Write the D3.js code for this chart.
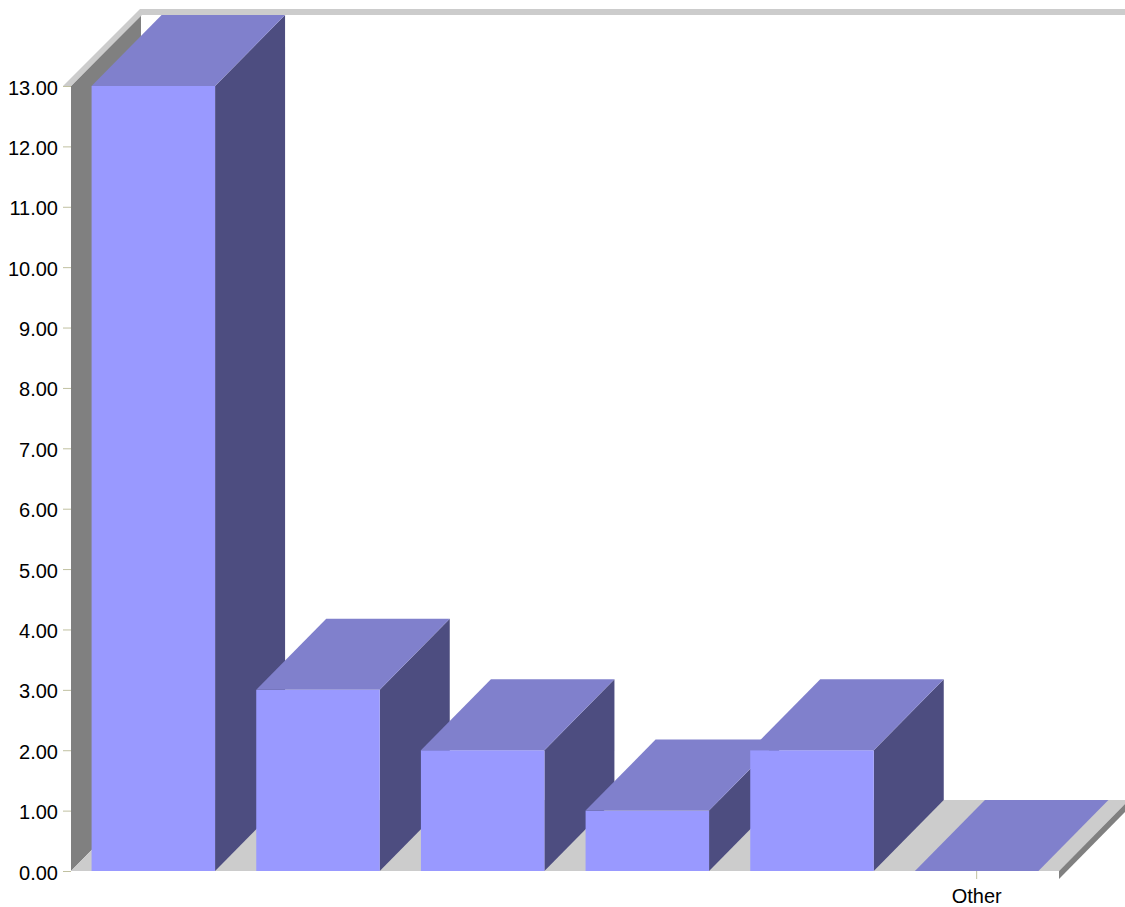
<!DOCTYPE html>
<html>
<head>
<meta charset="utf-8">
<script src="https://cdn.jsdelivr.net/npm/d3@7"></script>
<style>
  html, body { margin: 0; padding: 0; background: #ffffff; }
  svg { display: block; }
</style>
</head>
<body>
<div id="chart"></div>
<script>
// ---- data ----
const categoryLabels = ["", "", "", "", "", "Other"];
const seriesValues = [13, 3, 2, 1, 2, 0];
const yTicks = [0, 1, 2, 3, 4, 5, 6, 7, 8, 9, 10, 11, 12, 13];

// ---- layout ----
const W = 1125, H = 907;
const x0 = 71, x1 = 1059;   // front plane horizontal extent
const yBottom = 871, yTop = 86;
const dx = 70, dy = -71;    // 3D depth offset

const colors = {
  front: "#9999ff",
  top: "#8080cc",
  side: "#4d4d80",
  wall: "#808080",
  wallEdge: "#cccccc",
  floor: "#cccccc",
  floorEdge: "#808080",
  tick: "#c0c0a0"
};

const svg = d3.select("#chart").append("svg")
  .attr("width", W).attr("height", H);

const x = d3.scaleBand()
  .domain(d3.range(categoryLabels.length))
  .range([x0, x1])
  .paddingInner(0.25)
  .paddingOuter(0.125);

const y = d3.scaleLinear().domain([0, 13]).range([yBottom, yTop]);

const poly = pts => "M" + pts.map(p => p.join(",")).join("L") + "Z";

// ---- walls / floor ----
const bg = svg.append("g");
// left wall inner face
bg.append("path").attr("fill", colors.wall)
  .attr("d", poly([[x0, yBottom], [x0, y(13)], [x0 + dx, y(13) + dy], [x0 + dx, yBottom + dy]]));
// wall top edge + back top edge
bg.append("path").attr("fill", colors.wallEdge)
  .attr("d", poly([[x0 - 8, y(13)], [x0, y(13)], [x0 + dx + 1, y(13) + dy], [W, y(13) + dy],
                   [W, y(13) + dy - 6], [x0 + dx - 1, y(13) + dy - 6]]));
// floor
bg.append("path").attr("fill", colors.floor)
  .attr("d", poly([[x0, yBottom], [x1, yBottom], [x1 + dx, yBottom + dy], [x0 + dx, yBottom + dy]]));
// floor right edge thickness
bg.append("path").attr("fill", colors.floorEdge)
  .attr("d", poly([[x1, yBottom], [x1 + dx, yBottom + dy], [x1 + dx, yBottom + dy + 8], [x1, yBottom + 8]]));

// ---- y axis ----
const yAxis = d3.axisLeft(y)
  .tickValues(yTicks)
  .tickFormat(d3.format(".2f"))
  .tickSize(8)
  .tickPadding(5);
const gy = svg.append("g").attr("transform", `translate(${x0},0)`).call(yAxis);
gy.select(".domain").remove();
gy.selectAll(".tick line").attr("stroke", colors.tick);
gy.selectAll(".tick text")
  .attr("font-family", "'Liberation Sans', Arial, sans-serif")
  .attr("font-size", 20)
  .attr("fill", "#000")
  .attr("dy", "0.4em");

// ---- bars ----
const bars = svg.append("g");
seriesValues.forEach((v, i) => {
  const bx = x(i), bw = x.bandwidth();
  const yt = y(v), yb = y(0);
  const g = bars.append("g");
  if (v > 0) {
    // side
    g.append("path").attr("fill", colors.side)
      .attr("d", poly([[bx + bw, yb], [bx + bw, yt], [bx + bw + dx, yt + dy], [bx + bw + dx, yb + dy]]));
    // front
    g.append("rect").attr("fill", colors.front)
      .attr("x", bx).attr("y", yt).attr("width", bw).attr("height", yb - yt);
  }
  // top
  g.append("path").attr("fill", colors.top)
    .attr("d", poly([[bx, yt], [bx + bw, yt], [bx + bw + dx, yt + dy], [bx + dx, yt + dy]]));
});

// ---- category axis ----
const xAxis = d3.axisBottom(x)
  .tickValues(d3.range(categoryLabels.length).filter(i => categoryLabels[i] !== ""))
  .tickFormat(i => categoryLabels[i])
  .tickSize(8)
  .tickPadding(10);
const gx = svg.append("g").attr("transform", `translate(0,${yBottom})`).call(xAxis);
gx.select(".domain").remove();
gx.selectAll(".tick line").attr("stroke", colors.tick);
gx.selectAll(".tick text")
  .attr("font-family", "'Liberation Sans', Arial, sans-serif")
  .attr("font-size", 20)
  .attr("fill", "#000");
</script>
</body>
</html>
